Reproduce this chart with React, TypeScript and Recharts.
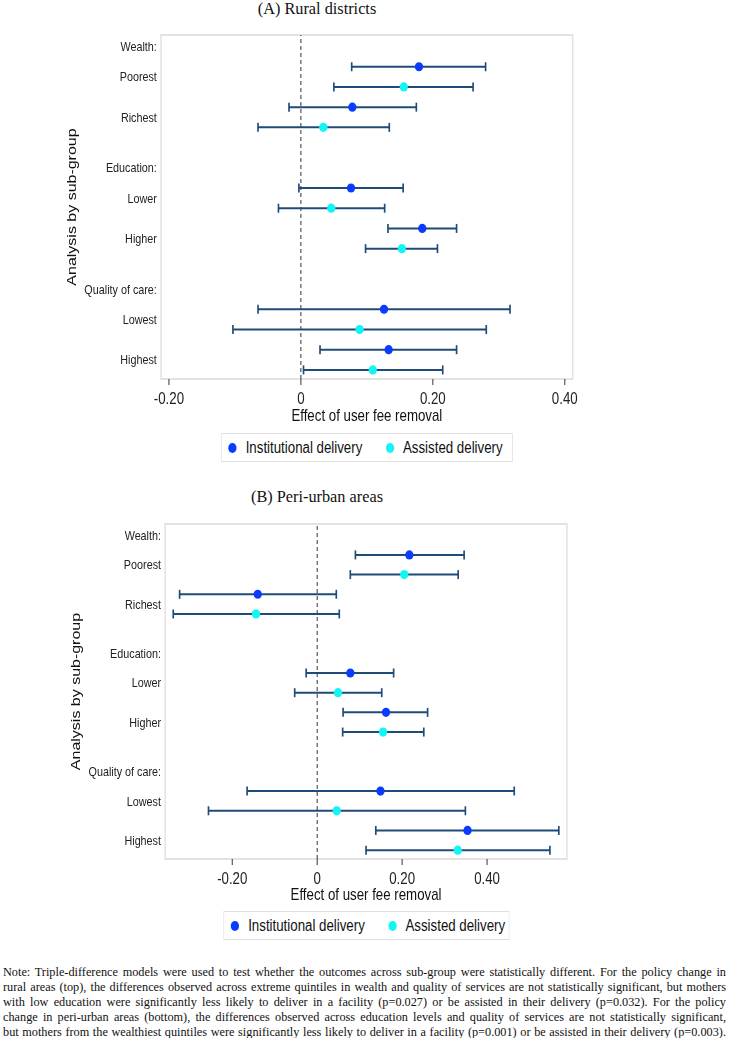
import React from 'react';
import { ComposedChart, Scatter, XAxis, YAxis, ErrorBar, ReferenceLine, ReferenceArea, Legend, Label } from 'recharts';

// ---------- data ----------
const groupHeaders = ['Wealth:', 'Education:', 'Quality of care:'];
const subGroups = ['Poorest', 'Richest', 'Lower', 'Higher', 'Lowest', 'Highest'];
const seriesNames = ['Institutional delivery', 'Assisted delivery'];
const xTicks = [-0.2, 0, 0.2, 0.4];

// (A) Rural districts
const ruralInstEst = [0.179, 0.078, 0.076, 0.184, 0.126, 0.133];
const ruralInstLo = [0.077, -0.018, -0.003, 0.132, -0.065, 0.029];
const ruralInstHi = [0.280, 0.175, 0.155, 0.236, 0.317, 0.236];
const ruralAsstEst = [0.156, 0.034, 0.046, 0.153, 0.089, 0.109];
const ruralAsstLo = [0.050, -0.065, -0.034, 0.098, -0.103, 0.004];
const ruralAsstHi = [0.261, 0.134, 0.127, 0.207, 0.281, 0.215];

// (B) Peri-urban areas
const periInstEst = [0.217, -0.140, 0.078, 0.162, 0.149, 0.354];
const periInstLo = [0.090, -0.324, -0.026, 0.061, -0.165, 0.138];
const periInstHi = [0.346, 0.045, 0.180, 0.260, 0.464, 0.569];
const periAsstEst = [0.205, -0.144, 0.049, 0.155, 0.046, 0.331];
const periAsstLo = [0.078, -0.339, -0.053, 0.060, -0.256, 0.115];
const periAsstHi = [0.332, 0.052, 0.152, 0.251, 0.349, 0.548];

const noteLines = [
  'Note: Triple-difference models were used to test whether the outcomes across sub-group were statistically different. For the policy change in',
  'rural areas (top), the differences observed across extreme quintiles in wealth and quality of services are not statistically significant, but mothers',
  'with low education were significantly less likely to deliver in a facility (p=0.027) or be assisted in their delivery (p=0.032). For the policy',
  'change in peri-urban areas (bottom), the differences observed across education levels and quality of services are not statistically significant,',
  'but mothers from the wealthiest quintiles were significantly less likely to deliver in a facility (p=0.001) or be assisted in their delivery (p=0.003).',
];

// ---------- layout helpers ----------
const SANS = '"Liberation Sans", Arial, Helvetica, sans-serif';
const SERIF = '"Liberation Serif", "Times New Roman", Times, serif';
const COLORS = ['#0a3cff', '#12f5f5'];
const BAR_COLOR = '#1f4b78';
const S = 0.83; // horizontal compression of the original graphic
const W = 880;
const Y_DOMAIN: [number, number] = [-0.57, 16.45];
const NOTE_S = 0.93;

const instRow = (i: number) => Math.floor(i / 2) * 6 + 1 + (i % 2) * 2;
const yTickVals: number[] = [];
const yTickLabels: string[] = [];
groupHeaders.forEach((h, g) => {
  yTickVals.push(g * 6);
  yTickLabels.push(h);
  subGroups.slice(g * 2, g * 2 + 2).forEach((s, k) => {
    yTickVals.push(instRow(g * 2 + k) + 0.5);
    yTickLabels.push(s);
  });
});

function build(est: number[], lo: number[], hi: number[], off: number) {
  return est.map((v, i) => ({ x: v, y: instRow(i) + off, err: [v - lo[i], hi[i] - v], name: subGroups[i] }));
}

const fmtX = (v: number) => (v === 0 ? '0' : v.toFixed(2));
const fmtY = (v: number) => yTickLabels[yTickVals.indexOf(v)] ?? '';

function Dot(props: any) {
  if (props.cx == null || props.cy == null) return null;
  return <ellipse cx={props.cx} cy={props.cy} rx={5} ry={4.6} fill={props.fill} />;
}

function LegendBox({ width }: { width: number }) {
  return (
    <div
      style={{
        width,
        height: 29,
        boxSizing: 'border-box',
        border: '1.5px solid #e0e0e0',
        display: 'flex',
        alignItems: 'center',
        paddingLeft: 8,
        fontFamily: SANS,
        fontSize: 16,
        color: '#111',
        background: '#fff',
        whiteSpace: 'nowrap',
      }}
    >
      {seriesNames.map((n, i) => (
        <div key={n} style={{ display: 'flex', alignItems: 'center', marginRight: i === 0 ? 28 : 0 }}>
          <span
            style={{ width: 10, height: 10, borderRadius: '50%', background: COLORS[i], marginRight: 11, display: 'inline-block' }}
          />
          <span>{n}</span>
        </div>
      ))}
    </div>
  );
}

type PanelProps = {
  top: number;
  height: number;
  margin: { top: number; right: number; bottom: number; left: number };
  yAxisWidth: number;
  xAxisHeight: number;
  xDomain: [number, number];
  inst: any[];
  asst: any[];
  legendTop: number;
  legendLeft: number;
  legendWidth: number;
};

function Panel(p: PanelProps) {
  const renderYLabel = (lp: any) => {
    const vb = lp.viewBox || {};
    const cx = vb.x + vb.width - 108;
    const cy = vb.y + vb.height / 2;
    return (
      <text
        x={cx}
        y={cy}
        transform={`rotate(-90, ${cx}, ${cy})`}
        textAnchor="middle"
        dy="0.35em"
        fontFamily={SANS}
        fontSize={16}
        fill="#111"
      >
        Analysis by sub-group
      </text>
    );
  };
  return (
    <div
      style={{
        position: 'absolute',
        left: 0,
        top: p.top,
        width: W,
        height: p.height,
        transform: `scaleX(${S})`,
        transformOrigin: '0 0',
      }}
    >
      <ComposedChart width={W} height={p.height} margin={p.margin}>
        <XAxis
          type="number"
          dataKey="x"
          domain={p.xDomain}
          ticks={xTicks}
          allowDataOverflow
          tickFormatter={fmtX}
          axisLine={false}
          tickSize={6}
          tickMargin={8}
          tickLine={{ stroke: '#444', strokeWidth: 1.3 }}
          tick={{ fontSize: 16, fill: '#222', fontFamily: SANS }}
          height={p.xAxisHeight}
          interval={0}
        >
          <Label value="Effect of user fee removal" position="insideBottom" offset={0} fontSize={16} fill="#111" fontFamily={SANS} />
        </XAxis>
        <YAxis
          type="number"
          dataKey="y"
          domain={Y_DOMAIN}
          reversed
          allowDataOverflow
          ticks={yTickVals}
          interval={0}
          tickFormatter={fmtY}
          axisLine={false}
          tickLine={false}
          tickSize={0}
          tickMargin={5}
          width={p.yAxisWidth}
          tick={{ fontSize: 13, fill: '#222', fontFamily: SANS }}
        >
          <Label content={renderYLabel} />
        </YAxis>
        <ReferenceArea
          x1={p.xDomain[0]}
          x2={p.xDomain[1]}
          y1={Y_DOMAIN[0]}
          y2={Y_DOMAIN[1]}
          fill="none"
          stroke="#e2e2e2"
          strokeWidth={1.8}
          ifOverflow="visible"
        />
        <ReferenceLine x={0} stroke="#333" strokeWidth={1.2} strokeDasharray="4 3" />
        <Scatter name={seriesNames[0]} data={p.inst} fill={COLORS[0]} shape={<Dot />} isAnimationActive={false}>
          <ErrorBar dataKey="err" direction="x" width={4.5} stroke={BAR_COLOR} strokeWidth={2} isAnimationActive={false} />
        </Scatter>
        <Scatter name={seriesNames[1]} data={p.asst} fill={COLORS[1]} shape={<Dot />} isAnimationActive={false}>
          <ErrorBar dataKey="err" direction="x" width={4.5} stroke={BAR_COLOR} strokeWidth={2} isAnimationActive={false} />
        </Scatter>
        <Legend
          layout="horizontal"
          verticalAlign="middle"
          align="center"
          wrapperStyle={{ top: p.legendTop, left: p.legendLeft, width: p.legendWidth, height: 29 }}
          content={() => <LegendBox width={p.legendWidth} />}
        />
      </ComposedChart>
    </div>
  );
}

const titleStyle = (top: number): React.CSSProperties => ({
  position: 'absolute',
  left: 0,
  top,
  width: 634,
  textAlign: 'center',
  fontFamily: SERIF,
  fontSize: 16.3,
  lineHeight: '18px',
  color: '#111',
  whiteSpace: 'nowrap',
});

export default function App() {
  return (
    <div style={{ position: 'absolute', left: 0, top: 0, width: 731, height: 1038, background: '#fff', overflow: 'hidden' }}>
      <div style={titleStyle(0)}>(A) Rural districts</div>
      <Panel
        top={25}
        height={450}
        margin={{ top: 10, right: 190, bottom: 54, left: 0 }}
        yAxisWidth={194}
        xAxisHeight={42}
        xDomain={[-0.212, 0.412]}
        inst={build(ruralInstEst, ruralInstLo, ruralInstHi, 0)}
        asst={build(ruralAsstEst, ruralAsstLo, ruralAsstHi, 1)}
        legendTop={408}
        legendLeft={266}
        legendWidth={352}
      />
      <div style={titleStyle(488)}>(B) Peri-urban areas</div>
      <Panel
        top={515}
        height={440}
        margin={{ top: 9, right: 197, bottom: 55, left: 0 }}
        yAxisWidth={199}
        xAxisHeight={41}
        xDomain={[-0.358, 0.588]}
        inst={build(periInstEst, periInstLo, periInstHi, 0)}
        asst={build(periAsstEst, periAsstLo, periAsstHi, 1)}
        legendTop={396}
        legendLeft={269}
        legendWidth={345}
      />
      <div
        style={{
          position: 'absolute',
          left: 3,
          top: 963.5,
          width: 723 / NOTE_S,
          transform: `scaleX(${NOTE_S})`,
          transformOrigin: '0 0',
        }}
      >
        {noteLines.map((l, i) => (
          <div
            key={i}
            style={{
              fontFamily: SERIF,
              fontSize: 13.2,
              lineHeight: '15px',
              height: 15,
              textAlign: 'justify',
              textAlignLast: 'justify',
              whiteSpace: 'nowrap',
              color: '#111',
            }}
          >
            {l}
          </div>
        ))}
      </div>
    </div>
  );
}
